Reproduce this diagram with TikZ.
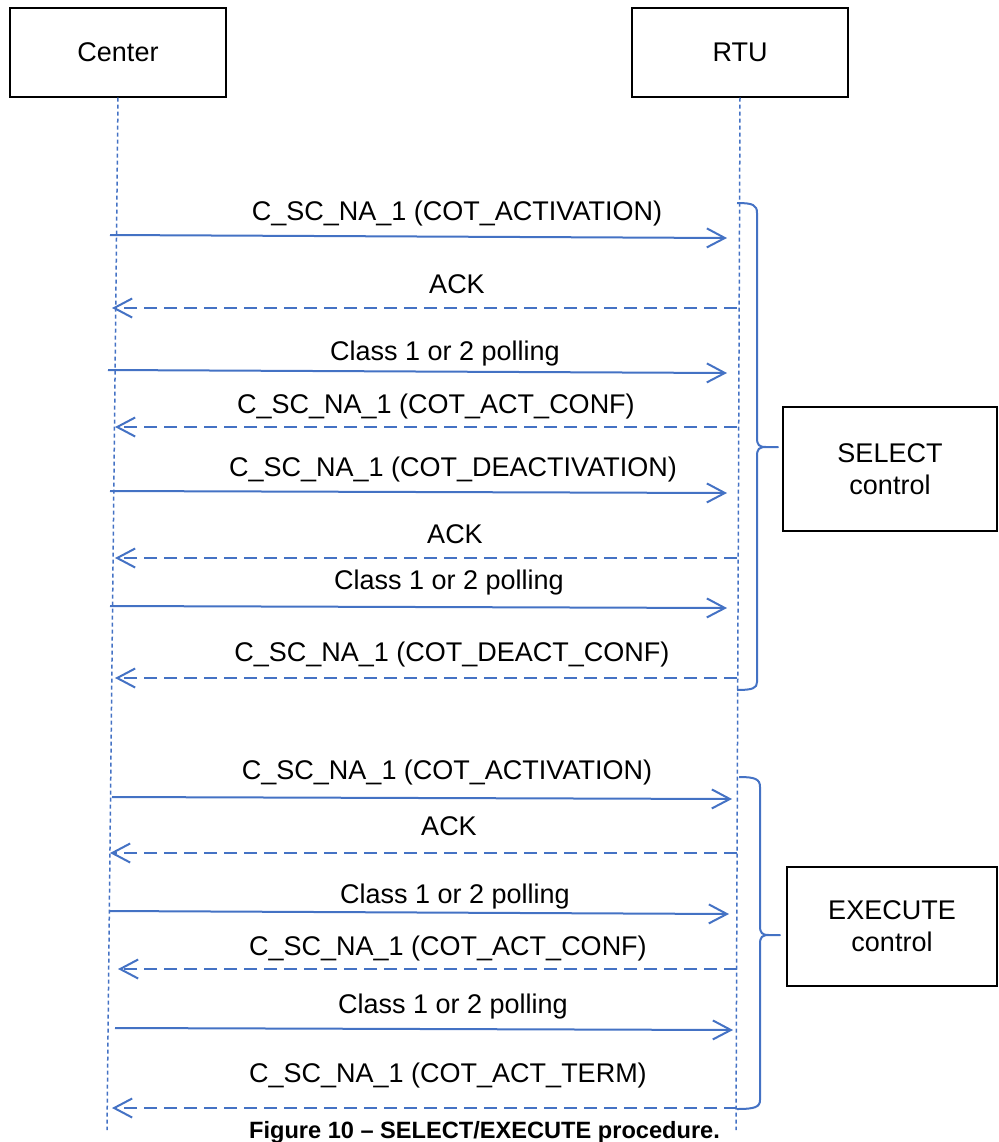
\documentclass[tikz,border=0pt]{standalone}
\usepackage{fontspec}
\setmainfont{Liberation Sans}
\usetikzlibrary{arrows.meta}
\definecolor{lineblue}{RGB}{68,114,196}

\begin{document}
\begin{tikzpicture}[x=0.5pt, y=-0.5pt, font=\fontsize{13.5}{16}\selectfont,
    party/.style={draw, line width=0.6pt, minimum width=108pt, minimum height=44.5pt, inner sep=0pt},
    phasebox/.style={draw, line width=0.6pt, align=center, inner sep=0pt},
    lifeline/.style={draw=lineblue, line width=0.75pt, dash pattern=on 2pt off 1.5pt},
    call/.style={draw=lineblue, line width=1pt, -{Straight Barb[length=9pt,width=9.5pt]}},
    reply/.style={call, dash pattern=on 6.5pt off 3.5pt},
    phase/.style={draw=lineblue, line width=1pt, line join=round},
    msg/.style={inner sep=0pt}]
  \useasboundingbox (0,0) rectangle (998,1142);
  \node[party] (center) at (118,52.5) {Center};
  \node[party] (rtu) at (740,52.5) {RTU};
  \coordinate (centerend) at (107,1130);
  \coordinate (rtuend) at (736,1130);
  \draw[lifeline] (center.south) -- (centerend);
  \draw[lifeline] (rtu.south) -- (rtuend);

  \coordinate (m1a) at (110,235); \coordinate (m1b) at (727,238);
  \draw[call] (m1a) -- (m1b);
  \node[msg] (lab1) at (457,214) {C\_SC\_NA\_1 (COT\_ACTIVATION)};
  \coordinate (m2a) at (737,308); \coordinate (m2b) at (112,308);
  \draw[reply] (m2a) -- (m2b);
  \node[msg] (lab2) at (457,284) {ACK};
  \coordinate (m3a) at (108,370); \coordinate (m3b) at (727,373);
  \draw[call] (m3a) -- (m3b);
  \node[msg] (lab3) at (445,354) {Class 1 or 2 polling};
  \coordinate (m4a) at (737,427); \coordinate (m4b) at (115,427);
  \draw[reply] (m4a) -- (m4b);
  \node[msg] (lab4) at (436,407) {C\_SC\_NA\_1 (COT\_ACT\_CONF)};
  \coordinate (m5a) at (110,491); \coordinate (m5b) at (727,493);
  \draw[call] (m5a) -- (m5b);
  \node[msg] (lab5) at (453,470) {C\_SC\_NA\_1 (COT\_DEACTIVATION)};
  \coordinate (m6a) at (737,558); \coordinate (m6b) at (115,558);
  \draw[reply] (m6a) -- (m6b);
  \node[msg] (lab6) at (455,534) {ACK};
  \coordinate (m7a) at (110,606); \coordinate (m7b) at (727,608);
  \draw[call] (m7a) -- (m7b);
  \node[msg] (lab7) at (449,583) {Class 1 or 2 polling};
  \coordinate (m8a) at (737,678); \coordinate (m8b) at (115,678);
  \draw[reply] (m8a) -- (m8b);
  \node[msg] (lab8) at (452,655) {C\_SC\_NA\_1 (COT\_DEACT\_CONF)};

  \coordinate (m9a) at (112,797); \coordinate (m9b) at (732,799);
  \draw[call] (m9a) -- (m9b);
  \node[msg] (lab9) at (447,773) {C\_SC\_NA\_1 (COT\_ACTIVATION)};
  \coordinate (m10a) at (737,853); \coordinate (m10b) at (110,853);
  \draw[reply] (m10a) -- (m10b);
  \node[msg] (lab10) at (449,826) {ACK};
  \coordinate (m11a) at (110,911); \coordinate (m11b) at (729,914);
  \draw[call] (m11a) -- (m11b);
  \node[msg] (lab11) at (455,897) {Class 1 or 2 polling};
  \coordinate (m12a) at (737,969); \coordinate (m12b) at (118,969);
  \draw[reply] (m12a) -- (m12b);
  \node[msg] (lab12) at (448,948) {C\_SC\_NA\_1 (COT\_ACT\_CONF)};
  \coordinate (m13a) at (115,1028); \coordinate (m13b) at (733,1030);
  \draw[call] (m13a) -- (m13b);
  \node[msg] (lab13) at (453,1007) {Class 1 or 2 polling};
  \coordinate (m14a) at (737,1108); \coordinate (m14b) at (112,1108);
  \draw[reply] (m14a) -- (m14b);
  \node[msg] (lab14) at (448,1075) {C\_SC\_NA\_1 (COT\_ACT\_TERM)};

  \coordinate (selecttop) at (737,203); \coordinate (selectbot) at (737,690);
  \draw[phase] (selecttop) .. controls (753,203) and (757,205) .. (757,213) -- (757,438)
    .. controls (757,445) and (759,447) .. (766,447) -- (778,447) -- (766,447)
    .. controls (759,447) and (757,449) .. (757,456) -- (757,682)
    .. controls (757,688) and (753,690) .. (selectbot);
  \node[phasebox, minimum width=107pt, minimum height=62pt] (select) at (890,469) {SELECT\\control};
  \coordinate (executetop) at (739,777); \coordinate (executebot) at (737,1109);
  \draw[phase] (executetop) .. controls (755,777) and (760,779) .. (760,787) -- (760,926)
    .. controls (760,933) and (762,935) .. (769,935) -- (780,935) -- (769,935)
    .. controls (762,935) and (760,937) .. (760,944) -- (760,1100)
    .. controls (760,1107) and (755,1109) .. (executebot);
  \node[phasebox, minimum width=105pt, minimum height=59.5pt] (execute) at (892,926.5) {EXECUTE\\control};

  \node[anchor=base, inner sep=0pt, font=\fontsize{11.8}{14}\selectfont\bfseries] (caption) at (484.5,1138) {Figure 10 \textendash{} SELECT/EXECUTE procedure.};
\end{tikzpicture}
\end{document}
